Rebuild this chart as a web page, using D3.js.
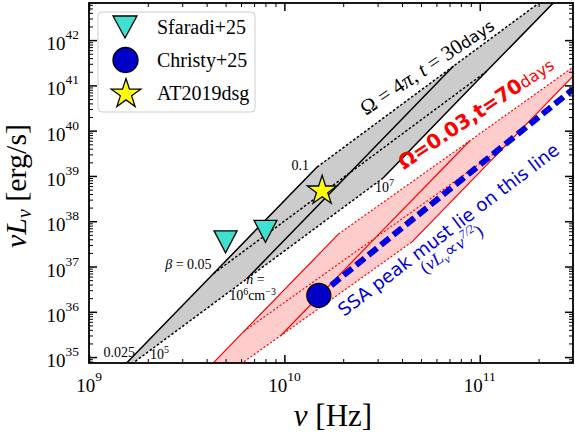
<!DOCTYPE html>
<html><head><meta charset="utf-8">
<script src="https://cdn.jsdelivr.net/npm/d3@7"></script>
<style>body{margin:0;background:#fff}</style>
</head><body>
<svg id="c" width="575" height="435"></svg>
<script>
// ---------------- data ----------------
const xMajorTicks = [1e9, 1e10, 1e11];
const xMajorExp = ["9", "10", "11"];
const yMajorTicks = [1e35, 1e36, 1e37, 1e38, 1e39, 1e40, 1e41, 1e42];
const yMajorExp = ["35", "36", "37", "38", "39", "40", "41", "42"];

const sfaradiNu = [5.0e9, 8.0e9];
const sfaradiL = [3.5e37, 6.0e37];
const christyNu = [1.5e10];
const christyL = [2.3e36];
const atNu = [1.56e10];
const atL = [4.7e38];

// SSA peak line (nu L_nu ∝ nu^{7/2})
const ssaNu = [1.5e10, 3.0e11];
const ssaL = [2.3e36, 8.2e40];

// mesh vertices: rows = n (1e5, 1e6, 1e7 cm^-3), cols = beta (0.025, 0.05, 0.1)
const grayNu = [[1.28e9, 4.34e9, 1.47e10], [6.40e9, 2.17e10, 7.34e10], [3.20e10, 1.08e11, 3.67e11]];
const grayL  = [[3.1e34, 7.0e36, 1.57e39], [5.3e36, 1.19e39, 2.67e41], [9.0e38, 2.02e41, 4.5e43]];
const redNu  = [[2.04e9, 6.2e9, 1.89e10], [9.6e9, 2.92e10, 8.9e10], [4.5e10, 1.37e11, 4.18e11]];
const redL   = [[2.6e33, 3.7e35, 5.2e37], [3.0e35, 4.3e37, 6.0e39], [3.5e37, 4.9e39, 7.0e41]];

const legendNames = ["Sfaradi+25", "Christy+25", "AT2019dsg"];

// ---------------- chart ----------------
const svg = d3.select("#c");
const m = {l: 89, r: 573, t: 3, b: 363};
const x = d3.scaleLog().domain([1e9, 3.0e11]).range([m.l, m.r]);
const y = d3.scaleLog().domain([7.4e34, 6.6e42]).range([m.b, m.t]);
const SERIF = "'Liberation Serif','Times New Roman',serif";
const SANS = "'DejaVu Sans',sans-serif";

svg.append("defs").append("clipPath").attr("id", "clip")
  .append("rect").attr("x", m.l).attr("y", m.t).attr("width", m.r - m.l).attr("height", m.b - m.t);
const plot = svg.append("g").attr("clip-path", "url(#clip)");

function minorTicks(dom) {
  const out = [];
  const lo = Math.floor(Math.log10(dom[0])), hi = Math.ceil(Math.log10(dom[1]));
  for (let e = lo; e <= hi; e++) for (let k = 2; k <= 9; k++) {
    const v = k * Math.pow(10, e);
    if (v > dom[0] && v < dom[1]) out.push(v);
  }
  return out;
}

// mesh drawing
function drawMesh(NU, L, fill, stroke, sw, dash) {
  const P = (i, j) => [x(NU[i][j]), y(L[i][j])];
  plot.append("path")
    .attr("d", d3.line()([P(0,0), P(1,0), P(2,0), P(2,1), P(2,2), P(1,2), P(0,2), P(0,1)]) + "Z")
    .attr("fill", fill).attr("stroke", "none");
  for (let j = 0; j < 3; j++) {
    plot.append("path").attr("d", d3.line()([P(0,j), P(1,j), P(2,j)]))
      .attr("fill", "none").attr("stroke", stroke).attr("stroke-width", sw)
      .attr("stroke-dasharray", dash);
  }
  for (let i = 0; i < 3; i++) {
    plot.append("path").attr("d", d3.line()([P(i,0), P(i,1), P(i,2)]))
      .attr("fill", "none").attr("stroke", stroke).attr("stroke-width", sw);
  }
  return P;
}
const Pg = drawMesh(grayNu, grayL, "#cccccc", "#000", 1.5, "2.5,2");
const Pr = drawMesh(redNu, redL, "#ffcccc", "#ff0000", 1.2, "2,2");

// blue SSA line
plot.append("path")
  .attr("d", d3.line()(ssaNu.map((v, i) => [x(v), y(ssaL[i])])))
  .attr("fill", "none").attr("stroke", "#0000e0").attr("stroke-width", 6)
  .attr("stroke-dasharray", "11,5");

// markers
function starPath(r) {
  const p = [];
  for (let i = 0; i < 10; i++) {
    const rr = i % 2 ? r * 0.382 : r;
    const a = -Math.PI / 2 + i * Math.PI / 5;
    p.push([rr * Math.cos(a), rr * Math.sin(a)]);
  }
  return "M" + p.map(q => q.join(",")).join("L") + "Z";
}
const triPath = (w, h) => `M${-w/2},${-h/2}L${w/2},${-h/2}L0,${h/2}Z`;

sfaradiNu.forEach((v, i) => {
  svg.append("path").attr("d", triPath(23, 22))
    .attr("transform", `translate(${x(v)},${y(sfaradiL[i])})`)
    .attr("fill", "#40e0d0").attr("stroke", "#000").attr("stroke-width", 1.3);
});
christyNu.forEach((v, i) => {
  svg.append("circle").attr("cx", x(v)).attr("cy", y(christyL[i])).attr("r", 12)
    .attr("fill", "#0000c8").attr("stroke", "#000").attr("stroke-width", 1.3);
});
atNu.forEach((v, i) => {
  svg.append("path").attr("d", starPath(15.5))
    .attr("transform", `translate(${x(v)},${y(atL[i])})`)
    .attr("fill", "#ffff00").attr("stroke", "#000").attr("stroke-width", 1.3);
});

// mesh labels
function lab(px, py, anchor, parts, size) {
  const t = svg.append("text").attr("x", px).attr("y", py).attr("text-anchor", anchor)
    .attr("font-family", SERIF).attr("font-size", size || 14);
  parts.forEach(p => {
    const s = t.append("tspan").text(p.t);
    if (p.i) s.attr("font-style", "italic");
    if (p.dy) s.attr("dy", p.dy);
    if (p.fs) s.attr("font-size", p.fs);
  });
  return t;
}
let g;
g = Pg(0,0); lab(g[0] + 25, g[1] - 23, "end", [{t: "0.025"}]);
g = Pg(0,1); lab(g[0] - 2, g[1] - 5, "end", [{t: "β", i: 1}, {t: " = 0.05"}]);
g = Pg(0,2); lab(g[0] - 8, g[1] + 3, "end", [{t: "0.1"}]);
g = Pg(0,0); lab(g[0] + 40, g[1] - 21, "start", [{t: "10"}, {t: "5", dy: -6, fs: 10}]);
g = Pg(1,0); lab(g[0] + 9, g[1] + 5, "middle", [{t: "n", i: 1}, {t: " ="}]);
lab(g[0] + 6, g[1] + 21, "middle", [{t: "10"}, {t: "6", dy: -5, fs: 10}, {t: "cm", dy: 5}, {t: "−3", dy: -5, fs: 10}]);
g = Pg(2,0); lab(g[0] - 8, g[1] + 14, "start", [{t: "10"}, {t: "7", dy: -6, fs: 10}]);

// rotated curve labels
const gl = svg.append("text").attr("transform", "translate(366,116) rotate(-34)")
  .attr("font-family", SERIF).attr("font-size", 21).attr("fill", "#000");
gl.append("tspan").text("Ω = 4");
gl.append("tspan").text("π").attr("font-style", "italic");
gl.append("tspan").text(", ");
gl.append("tspan").text("t").attr("font-style", "italic");
gl.append("tspan").text(" = 30");
gl.append("tspan").text("days").attr("font-family", SANS).attr("font-size", 16);

const rl = svg.append("text").attr("transform", "translate(404,170) rotate(-34)")
  .attr("font-family", SANS).attr("fill", "#ff0000");
rl.append("tspan").text("Ω=0.03,t=70").attr("font-size", 20).attr("font-weight", "bold");
rl.append("tspan").text("days").attr("font-size", 16);

svg.append("text").attr("transform", "translate(344,317) rotate(-37.2)")
  .attr("font-family", SANS).attr("font-size", 18.3).attr("fill", "#0000e0")
  .text("SSA peak must lie on this line");
const bl = svg.append("text").attr("transform", "translate(425,274) rotate(-34)")
  .attr("font-family", SERIF).attr("font-size", 18).attr("fill", "#0000e0");
bl.append("tspan").text("(");
bl.append("tspan").text("νL").attr("font-style", "italic");
bl.append("tspan").text("ν").attr("font-style", "italic").attr("font-size", 12).attr("dy", 4);
bl.append("tspan").text("∝").attr("dy", -4);
bl.append("tspan").text("ν").attr("font-style", "italic");
bl.append("tspan").text("7/2").attr("font-style", "italic").attr("font-size", 12).attr("dy", -8);
bl.append("tspan").text(")").attr("dy", 8);

// ---------------- axes ----------------
function addAxis(gen, tr, vals, size) {
  const a = svg.append("g").attr("transform", tr)
    .call(gen.tickValues(vals).tickSize(size).tickFormat(""));
  a.select(".domain").remove();
  a.selectAll("line").attr("stroke", "#000").attr("stroke-width", size < -6 ? 1.5 : 1);
}
const xMin = minorTicks(x.domain()), yMin = minorTicks(y.domain());
addAxis(d3.axisBottom(x), `translate(0,${m.b})`, xMin, -4);
addAxis(d3.axisBottom(x), `translate(0,${m.b})`, xMajorTicks, -8);
addAxis(d3.axisTop(x), `translate(0,${m.t})`, xMin, -4);
addAxis(d3.axisTop(x), `translate(0,${m.t})`, xMajorTicks, -8);
addAxis(d3.axisLeft(y), `translate(${m.l},0)`, yMin, -4);
addAxis(d3.axisLeft(y), `translate(${m.l},0)`, yMajorTicks, -8);
addAxis(d3.axisRight(y), `translate(${m.r},0)`, yMin, -4);
addAxis(d3.axisRight(y), `translate(${m.r},0)`, yMajorTicks, -8);

svg.append("rect").attr("x", m.l).attr("y", m.t).attr("width", m.r - m.l).attr("height", m.b - m.t)
  .attr("fill", "none").attr("stroke", "#000").attr("stroke-width", 1.8);

xMajorTicks.forEach((v, i) => {
  const t = svg.append("text").attr("x", x(v)).attr("y", 392).attr("text-anchor", "middle")
    .attr("font-family", SERIF).attr("font-size", 19);
  t.append("tspan").text("10");
  t.append("tspan").text(xMajorExp[i]).attr("font-size", 13.5).attr("dy", -11);
});
yMajorTicks.forEach((v, i) => {
  const t = svg.append("text").attr("x", 79).attr("y", y(v) + 10).attr("text-anchor", "end")
    .attr("font-family", SERIF).attr("font-size", 19);
  t.append("tspan").text("10");
  t.append("tspan").text(yMajorExp[i]).attr("font-size", 13.5).attr("dy", -11);
});

// axis titles
const xt = svg.append("text").attr("x", 333).attr("y", 426).attr("text-anchor", "middle")
  .attr("font-family", SERIF).attr("font-size", 31);
xt.append("tspan").text("ν").attr("font-style", "italic");
xt.append("tspan").text(" [Hz]");

const yt = svg.append("text").attr("transform", `translate(26,186) rotate(-90)`)
  .attr("text-anchor", "middle").attr("font-family", SERIF).attr("font-size", 30);
yt.append("tspan").text("νL").attr("font-style", "italic");
yt.append("tspan").text("ν").attr("font-style", "italic").attr("font-size", 20).attr("dy", 5);
yt.append("tspan").text(" [erg/s]").attr("dy", -5);

// ---------------- legend ----------------
const lg = svg.append("g");
lg.append("rect").attr("x", 98).attr("y", 12).attr("width", 157).attr("height", 100).attr("rx", 4)
  .attr("fill", "#fff").attr("fill-opacity", 0.85).attr("stroke", "#cccccc").attr("stroke-width", 1);
const ly = [27, 60, 93];
lg.append("path").attr("d", triPath(24, 22)).attr("transform", `translate(125,${ly[0]})`)
  .attr("fill", "#40e0d0").attr("stroke", "#000").attr("stroke-width", 1.3);
lg.append("circle").attr("cx", 125.5).attr("cy", ly[1]).attr("r", 12.5)
  .attr("fill", "#0000c8").attr("stroke", "#000").attr("stroke-width", 1.3);
lg.append("path").attr("d", starPath(15.5)).attr("transform", `translate(126,${ly[2] + 1})`)
  .attr("fill", "#ffff00").attr("stroke", "#000").attr("stroke-width", 1.3);
legendNames.forEach((n, i) => {
  lg.append("text").attr("x", 157).attr("y", ly[i] + 7).attr("font-family", SERIF)
    .attr("font-size", 20).text(n);
});
</script>
</body></html>
